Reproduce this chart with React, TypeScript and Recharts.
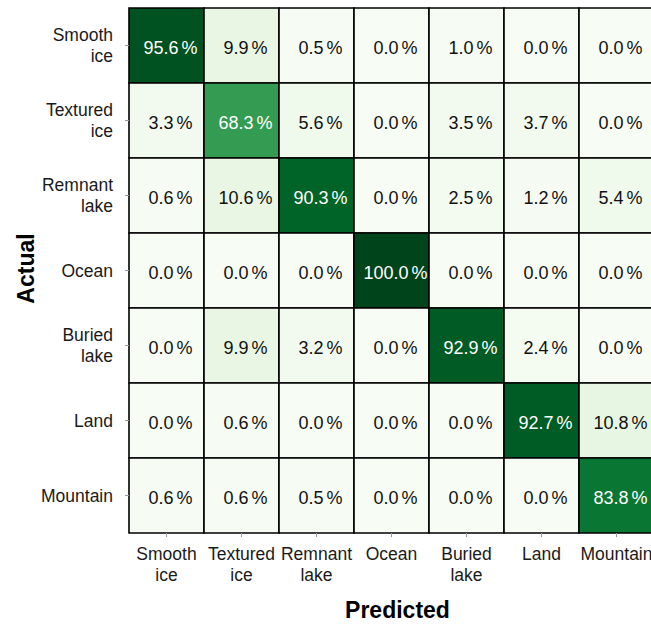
import React from 'react';
import { BarChart, Bar, XAxis, YAxis, Cell, LabelList } from 'recharts';

const actualLabels = ['Smooth ice', 'Textured ice', 'Remnant lake', 'Ocean', 'Buried lake', 'Land', 'Mountain'];
const predictedLabels = ['Smooth ice', 'Textured ice', 'Remnant lake', 'Ocean', 'Buried lake', 'Land', 'Mountain'];

const smoothIce = [95.6, 9.9, 0.5, 0.0, 1.0, 0.0, 0.0];
const texturedIce = [3.3, 68.3, 5.6, 0.0, 3.5, 3.7, 0.0];
const remnantLake = [0.6, 10.6, 90.3, 0.0, 2.5, 1.2, 5.4];
const ocean = [0.0, 0.0, 0.0, 100.0, 0.0, 0.0, 0.0];
const buriedLake = [0.0, 9.9, 3.2, 0.0, 92.9, 2.4, 0.0];
const land = [0.0, 0.6, 0.0, 0.0, 0.0, 92.7, 10.8];
const mountain = [0.6, 0.6, 0.5, 0.0, 0.0, 0.0, 83.8];

const matrix = [smoothIce, texturedIce, remnantLake, ocean, buriedLake, land, mountain];

const greens = ['#f7fcf5', '#e5f5e0', '#c7e9c0', '#a1d99b', '#74c476', '#41ab5d', '#238b45', '#006d2c', '#00441b'];

function hexToRgb(h: string) {
  return [parseInt(h.slice(1, 3), 16), parseInt(h.slice(3, 5), 16), parseInt(h.slice(5, 7), 16)];
}

function colorFor(v: number) {
  const t = Math.max(0, Math.min(1, v / 100)) * 8;
  const i = Math.min(7, Math.floor(t));
  const f = t - i;
  const a = hexToRgb(greens[i]);
  const b = hexToRgb(greens[i + 1]);
  const c = a.map((x, k) => Math.round(x + (b[k] - x) * f));
  return `rgb(${c[0]},${c[1]},${c[2]})`;
}

const data = actualLabels.map((name, r) => {
  const row: any = { name };
  predictedLabels.forEach((_, c) => {
    row[`w${c}`] = 1;
    row[`v${c}`] = matrix[r][c];
  });
  return row;
});

const colTicks = predictedLabels.map((_, c) => c + 0.5);

const FONT = '"Liberation Sans", Arial, Helvetica, sans-serif';

const YTick = (props: any) => {
  const { x, y, payload } = props;
  const parts = String(payload.value).split(' ');
  if (parts.length === 1) {
    return (
      <text x={x} y={y + 6} textAnchor="end" fontSize={17.5} fill="#1a1a1a" fontFamily={FONT}>
        {parts[0]}
      </text>
    );
  }
  return (
    <text textAnchor="end" fontSize={17.5} fill="#1a1a1a" fontFamily={FONT}>
      <tspan x={x} y={y - 4.5}>{parts[0]}</tspan>
      <tspan x={x} y={y + 16.5}>{parts[1]}</tspan>
    </text>
  );
};

const XTick = (props: any) => {
  const { x, y, payload } = props;
  const label = predictedLabels[Math.floor(payload.value)] || '';
  const parts = label.split(' ');
  return (
    <text textAnchor="middle" fontSize={17.5} fill="#1a1a1a" fontFamily={FONT}>
      <tspan x={x} y={y + 23}>{parts[0]}</tspan>
      {parts[1] ? <tspan x={x} y={y + 44}>{parts[1]}</tspan> : null}
    </text>
  );
};

const makeCellLabel = () => (props: any) => {
  const { x, y, width, height, value } = props;
  const v = Number(value);
  const fill = v > 50 ? '#ffffff' : '#111111';
  return (
    <text
      x={x + width / 2 + 4}
      y={y + height / 2 + 8.5}
      textAnchor="middle"
      fontSize={18}
      fill={fill}
      fontFamily={FONT}
    >
      {v.toFixed(1)}
      <tspan dx={3}>%</tspan>
    </text>
  );
};

export default function App() {
  return (
    <div
      style={{
        position: 'absolute',
        left: 0,
        top: 0,
        width: 651,
        height: 624,
        overflow: 'hidden',
        background: '#fff',
        fontFamily: FONT,
      }}
    >
      <BarChart
        width={660}
        height={624}
        data={data}
        layout="vertical"
        barCategoryGap={0}
        barGap={0}
        margin={{ top: 8, right: 6, bottom: 0, left: 0 }}
      >
        <XAxis
          type="number"
          domain={[0, 7]}
          ticks={colTicks}
          interval={0}
          height={91}
          tickSize={4}
          tickMargin={0}
          axisLine={false}
          tickLine={{ stroke: '#999' }}
          tick={<XTick />}
          label={{
            content: (p: any) => {
              const vb = p.viewBox;
              return (
                <text
                  x={vb.x + vb.width / 2 + 6}
                  y={618}
                  textAnchor="middle"
                  fontSize={23}
                  fontWeight="bold"
                  fill="#000"
                  fontFamily={FONT}
                >
                  Predicted
                </text>
              );
            },
          }}
        />
        <YAxis
          type="category"
          dataKey="name"
          width={129}
          tickSize={4}
          tickMargin={12}
          interval={0}
          axisLine={false}
          tickLine={{ stroke: '#999' }}
          tick={<YTick />}
          label={{
            content: (p: any) => {
              const vb = p.viewBox;
              const cy = vb.y + vb.height / 2 - 2;
              return (
                <text
                  x={34}
                  y={cy}
                  transform={`rotate(-90, 34, ${cy})`}
                  textAnchor="middle"
                  fontSize={23}
                  fontWeight="bold"
                  fill="#000"
                  fontFamily={FONT}
                >
                  Actual
                </text>
              );
            },
          }}
        />
        {predictedLabels.map((_, c) => (
          <Bar key={c} dataKey={`w${c}`} stackId="a" isAnimationActive={false}>
            {data.map((row, r) => (
              <Cell key={r} fill={colorFor(row[`v${c}`])} stroke="#000" strokeWidth={1.6} />
            ))}
            <LabelList dataKey={`v${c}`} content={makeCellLabel()} />
          </Bar>
        ))}
      </BarChart>
    </div>
  );
}
